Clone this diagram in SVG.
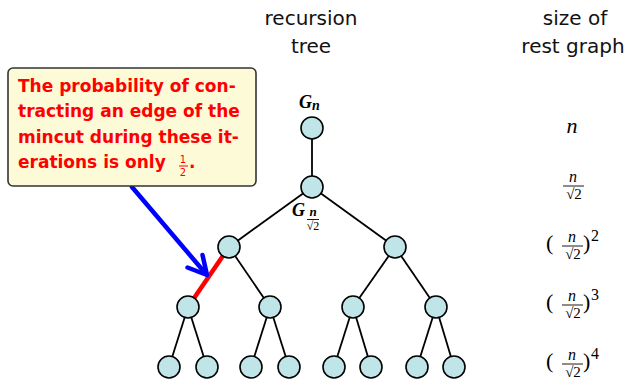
<svg xmlns="http://www.w3.org/2000/svg" width="631" height="385" viewBox="0 0 631 385">
<defs>
<style>
.node{fill:#c0e5e8;stroke:#000;stroke-width:1.6}
.edge{stroke:#000;stroke-width:1.8;fill:none}
.head{font-family:"DejaVu Sans",sans-serif;font-size:20px;fill:#111;text-anchor:middle}
.note{font-family:"DejaVu Sans",sans-serif;font-size:17px;font-weight:bold;fill:#f00}
.frac{font-family:"DejaVu Sans",sans-serif;font-size:10px;fill:#f00;text-anchor:middle}
.m{font-family:"Liberation Serif",serif;font-style:italic;fill:#000}
.mr{font-family:"Liberation Serif",serif;fill:#000}
.bar{stroke:#000;stroke-width:0.9}
</style>
</defs>
<rect width="631" height="385" fill="#fff"/>
<text class="head" x="311" y="25">recursion</text>
<text class="head" x="311" y="53">tree</text>
<text class="head" x="575" y="25">size of</text>
<text class="head" x="573" y="53">rest graph</text>

<g id="connectors">
<line class="edge" x1="312" y1="128" x2="312" y2="187"/>
<line class="edge" x1="312" y1="187" x2="229" y2="247"/>
<line class="edge" x1="312" y1="187" x2="395" y2="247"/>
<line class="edge" x1="229" y1="247" x2="270" y2="307"/>
<line class="edge" x1="395" y1="247" x2="353" y2="307"/>
<line class="edge" x1="395" y1="247" x2="436" y2="307"/>
<line class="edge" x1="188" y1="307" x2="169" y2="367"/>
<line class="edge" x1="188" y1="307" x2="207" y2="367"/>
<line class="edge" x1="270" y1="307" x2="251" y2="367"/>
<line class="edge" x1="270" y1="307" x2="289" y2="367"/>
<line class="edge" x1="353" y1="307" x2="334" y2="367"/>
<line class="edge" x1="353" y1="307" x2="371" y2="367"/>
<line class="edge" x1="436" y1="307" x2="417" y2="367"/>
<line class="edge" x1="436" y1="307" x2="454" y2="367"/>
<line x1="229" y1="247" x2="188" y2="307" stroke="#f00" stroke-width="4.5"/>
<g id="blue-arrow" stroke="#0000ff" stroke-width="4.5" fill="none" stroke-linecap="round" stroke-linejoin="round">
<line x1="132" y1="187" x2="206" y2="274"/>
<polyline points="202.5,255 207,275 187.5,267.5"/>
</g>
</g>

<g id="n0"><circle class="node" cx="312" cy="128" r="11"/></g>
<g id="n1"><circle class="node" cx="312" cy="187" r="11"/></g>
<g id="n2a"><circle class="node" cx="229" cy="247" r="11"/></g>
<g id="n2b"><circle class="node" cx="395" cy="247" r="11"/></g>
<g id="n3a"><circle class="node" cx="188" cy="307" r="11"/></g>
<g id="n3b"><circle class="node" cx="270" cy="307" r="11"/></g>
<g id="n3c"><circle class="node" cx="353" cy="307" r="11"/></g>
<g id="n3d"><circle class="node" cx="436" cy="307" r="11"/></g>
<g id="n4a"><circle class="node" cx="169" cy="367" r="11"/></g>
<g id="n4b"><circle class="node" cx="207" cy="367" r="11"/></g>
<g id="n4c"><circle class="node" cx="251" cy="367" r="11"/></g>
<g id="n4d"><circle class="node" cx="289" cy="367" r="11"/></g>
<g id="n4e"><circle class="node" cx="334" cy="367" r="11"/></g>
<g id="n4f"><circle class="node" cx="371" cy="367" r="11"/></g>
<g id="n4g"><circle class="node" cx="417" cy="367" r="11"/></g>
<g id="n4h"><circle class="node" cx="454" cy="367" r="11"/></g>

<g id="labels">
<text class="m" x="299" y="108" font-size="18" font-weight="bold">G<tspan font-size="14" dy="2">n</tspan></text>
<text class="m" x="292" y="216" font-size="18" font-weight="bold">G</text>
<text class="m" x="313" y="216" font-size="13" font-weight="bold" text-anchor="middle">n</text>
<line class="bar" x1="307" y1="219.5" x2="319" y2="219.5"/>
<text class="mr" x="313" y="230" font-size="12" text-anchor="middle">√2</text>
</g>

<g id="sizes">
<text class="m" x="572" y="133" font-size="22" text-anchor="middle">n</text>
<g id="s1">
<text class="m" x="573" y="182" font-size="16" text-anchor="middle">n</text>
<line class="bar" x1="563" y1="186" x2="584" y2="186"/>
<text class="mr" x="574" y="199" font-size="15" text-anchor="middle">√2</text>
</g>
<g id="s2">
<text class="mr" x="546" y="250" font-size="22">(</text>
<text class="m" x="572" y="242" font-size="16" text-anchor="middle">n</text>
<line class="bar" x1="562" y1="246" x2="583" y2="246"/>
<text class="mr" x="573" y="259" font-size="15" text-anchor="middle">√2</text>
<text class="mr" x="583" y="250" font-size="22">)</text>
<text class="mr" x="591" y="241" font-size="16">2</text>
</g>
<g id="s3">
<text class="mr" x="546" y="309" font-size="22">(</text>
<text class="m" x="572" y="301" font-size="16" text-anchor="middle">n</text>
<line class="bar" x1="562" y1="305" x2="583" y2="305"/>
<text class="mr" x="573" y="318" font-size="15" text-anchor="middle">√2</text>
<text class="mr" x="583" y="309" font-size="22">)</text>
<text class="mr" x="591" y="300" font-size="16">3</text>
</g>
<g id="s4">
<text class="mr" x="546" y="368" font-size="22">(</text>
<text class="m" x="572" y="360" font-size="16" text-anchor="middle">n</text>
<line class="bar" x1="562" y1="364" x2="583" y2="364"/>
<text class="mr" x="573" y="377" font-size="15" text-anchor="middle">√2</text>
<text class="mr" x="583" y="368" font-size="22">)</text>
<text class="mr" x="591" y="359" font-size="16">4</text>
</g>
</g>

<g id="note">
<rect x="8" y="68" width="248" height="118" rx="5" fill="#fdfbd7" stroke="#333" stroke-width="1.6"/>
<text class="note" x="18" y="92">The probability of con-</text>
<text class="note" x="18" y="117">tracting an edge of the</text>
<text class="note" x="18" y="143">mincut during these it-</text>
<text class="note" x="18" y="168">erations is only</text>
<text class="frac" x="183" y="163">1</text>
<line x1="179" y1="166" x2="188" y2="166" stroke="#f00" stroke-width="1"/>
<text class="frac" x="183" y="176">2</text>
<text class="note" x="189" y="168">.</text>
</g>
</svg>
